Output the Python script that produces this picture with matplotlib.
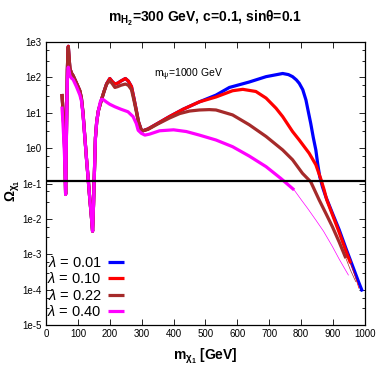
import numpy as np
import matplotlib
matplotlib.use("Agg")
import matplotlib.pyplot as plt
from matplotlib.ticker import LogLocator, FixedLocator, NullFormatter

plt.rcParams['font.family'] = ['Liberation Sans', 'DejaVu Sans']
plt.rcParams['mathtext.fontset'] = 'custom'
plt.rcParams['mathtext.rm'] = 'Liberation Sans'
plt.rcParams['mathtext.it'] = 'Liberation Sans:italic'
plt.rcParams['mathtext.bf'] = 'Liberation Sans:bold'

# ---------------- data (m_chi1 [GeV], Omega) ----------------
m_blue = [50, 52, 55, 58, 60, 61.5, 63, 65, 67, 69, 70, 72, 75, 80, 85, 95, 106, 111, 116,
          122, 127, 132, 137, 142, 146, 149, 151, 155, 159, 164, 174, 182, 190, 200, 208,
          216, 225, 235, 249, 258, 268, 276, 283, 290, 299, 304, 320, 350, 387, 430, 481,
          533, 575, 637, 690, 742, 760, 773, 785, 794, 805, 815, 822, 830, 838, 846, 852,
          858, 867, 877, 898, 919, 940, 960, 980, 992]
om_blue = [34, 18, 5.6, 1.26, 0.25, 0.05, 0.5, 10, 160, 630, 760, 400, 178, 132, 112, 71, 42,
           26, 10, 1.95, 0.5, 0.145, 0.04, 0.0126, 0.0045, 0.025, 0.12, 1.95, 5.6, 11.2, 23.4,
           40, 66, 93, 76, 65, 69, 79, 93, 79, 55, 25, 12, 5.6, 3.2, 3.1, 3.5, 5.0, 7.8, 12.6,
           20.4, 31.6, 52, 74, 105, 129, 120, 105, 85, 68, 45, 23, 11.2, 5.0, 2.0, 0.89, 0.35,
           0.16, 0.08, 0.043, 0.0145, 0.005, 1.5e-3, 5.0e-4, 1.66e-4, 8.9e-5]

m_red = [50, 52, 55, 58, 60, 61.5, 63, 65, 67, 69, 70, 72, 75, 80, 85, 95, 106, 111, 116,
         122, 127, 132, 137, 142, 146, 149, 151, 155, 159, 164, 174, 182, 190, 200, 208,
         216, 225, 235, 249, 258, 268, 276, 283, 290, 299, 304, 320, 350, 387, 430, 481,
         533, 585, 617, 658, 690, 721, 742, 773, 794, 825, 846, 861, 872, 880, 898, 919,
         940, 955, 968, 981]
om_red = [34, 18, 5.6, 1.26, 0.25, 0.05, 0.5, 10, 160, 630, 760, 400, 178, 132, 112, 71, 42,
          26, 10, 1.95, 0.5, 0.145, 0.04, 0.0126, 0.0045, 0.025, 0.12, 1.95, 5.6, 11.2, 23.4,
          40, 66, 93, 76, 65, 69, 79, 93, 79, 55, 25, 12, 5.6, 3.2, 3.1, 3.5, 5.0, 7.8, 12.6,
          20.4, 28, 42, 46, 40, 26, 13.5, 7.8, 2.95, 1.7, 0.72, 0.34, 0.14, 0.066, 0.035,
          0.0132, 0.0042, 1.26e-3, 5.6e-4, 2.6e-4, 1.1e-4]

m_brown = [50, 52, 55, 58, 60, 61.5, 63, 65, 67, 69, 70, 72, 75, 80, 85, 95, 106, 111, 116,
           122, 127, 132, 137, 142, 146, 149, 151, 155, 159, 164, 174, 182, 190, 200, 208,
           216, 225, 235, 249, 258, 268, 276, 283, 290, 299, 304, 320, 350, 387, 419, 450,
           481, 512, 533, 585, 637, 690, 742, 773, 804, 830, 856, 878, 898, 919, 940, 955,
           971]
om_brown = [34, 18, 5.6, 1.26, 0.25, 0.05, 0.5, 10, 160, 630, 720, 400, 178, 132, 112, 71,
            42, 26, 10, 1.95, 0.5, 0.145, 0.04, 0.0126, 0.0045, 0.025, 0.12, 1.95, 5.6, 11.2,
            23.4, 40, 64, 81, 66, 52, 55, 60, 65, 60, 45, 22, 11, 5.3, 3.2, 3.1, 3.4, 4.8,
            7.1, 9.5, 11.2, 12.0, 12.3, 12.0, 8.7, 4.6, 2.14, 0.89, 0.47, 0.195, 0.112,
            0.035, 0.014, 0.006, 2.24e-3, 7.8e-4, 3.5e-4, 1.7e-4]

m_mag = [50, 52, 55, 58, 60, 61.5, 63, 65, 67, 69, 70, 72, 75, 80, 85, 95, 106, 111, 116,
         122, 127, 132, 137, 142, 146, 149, 151, 155, 159, 164, 170, 174, 180, 190, 200, 216,
         235, 257, 273, 283, 289, 299, 310, 325, 356, 400, 440, 481, 533, 585, 637, 690, 736,
         778, 800, 820, 846, 870, 898, 920, 948]
om_mag = [15, 7.9, 2.5, 0.63, 0.18, 0.049, 0.4, 7.9, 79, 178, 195, 158, 112, 95, 87, 56, 32,
          22, 8.9, 1.86, 0.5, 0.145, 0.04, 0.0126, 0.0045, 0.025, 0.12, 1.95, 5.6, 11.2, 20,
          24, 23.4, 20, 17.4, 14.8, 12.6, 10.7, 7.8, 5.0, 3.2, 2.63, 2.34, 2.5, 3.1, 3.3, 2.95,
          2.34, 1.7, 1.1, 0.6, 0.3, 0.14, 0.066, 0.035, 0.02, 0.0093, 0.0045, 1.66e-3,
          7.1e-4, 2.6e-4]

# mass above which each curve is drawn thin
thin_from = {'blue': 2000, 'red': 955, 'brown': 940, 'mag': 778}

labels = [r'$\lambda$ = 0.01', r'$\lambda$ = 0.10', r'$\lambda$ = 0.22', r'$\lambda$ = 0.40']
omega_obs = 0.12

# ---------------- figure ----------------
fig = plt.figure(figsize=(3.82, 3.82), dpi=100)
ax = fig.add_axes([0.1204, 0.149, 0.835, 0.741])

series = [('blue', m_blue, om_blue, '#0000ff'),
          ('red', m_red, om_red, '#ff0000'),
          ('brown', m_brown, om_brown, '#a52a2a'),
          ('mag', m_mag, om_mag, '#ff00ff')]

handles = []
for (key, m, om, col), lab in zip(series, labels):
    m = np.array(m, float)
    om = np.array(om, float)
    cut = thin_from[key]
    thick = m <= cut
    h, = ax.plot(m[thick], om[thick], color=col, lw=2.3, solid_joinstyle='round',
                 solid_capstyle='butt', label=lab)
    handles.append(h)
    if (~thick).any():
        idx = np.where(~thick)[0]
        idx = np.concatenate([[idx[0] - 1], idx])
        ax.plot(m[idx], om[idx], color=col, lw=0.5)

ax.axhline(omega_obs, color='black', lw=1.6)

ax.set_yscale('log')
ax.set_xlim(0, 1000)
ax.set_ylim(1e-5, 1e3)
ax.xaxis.set_major_locator(FixedLocator(np.arange(0, 1001, 100)))
ax.yaxis.set_major_locator(FixedLocator([10.0 ** k for k in range(-5, 4)]))
ax.set_yticklabels(['1e-5', '1e-4', '1e-3', '1e-2', '1e-1', '1e0', '1e1', '1e2', '1e3'])
ax.yaxis.set_minor_locator(LogLocator(base=10, subs=(3.0, 6.0), numticks=20))
ax.yaxis.set_minor_formatter(NullFormatter())
ax.tick_params(which='both', direction='in', top=True, right=True, labelsize=7,
               width=0.6, pad=3)
ax.tick_params(which='major', length=4)
ax.tick_params(which='minor', length=2)
for s in ax.spines.values():
    s.set_linewidth(0.9)

ax.text(448, 117, r'$\mathregular{m_{\psi}}$=1000 GeV', fontsize=7.5, ha='center', va='center')

fig.text(0.537, 0.952, r'$\mathbf{m_{H_2}}$=300 GeV, c=0.1, sin$\mathbf{\theta}$=0.1',
         ha='center', va='center', fontsize=10, fontweight='bold')
fig.text(0.537, 0.068, r'$\mathbf{m_{\chi_1}}$ [GeV]', ha='center', va='center',
         fontsize=10, fontweight='bold')
fig.text(0.033, 0.5, r'$\mathbf{\Omega_{\chi_1}}$', ha='center', va='center',
         fontsize=10, fontweight='bold', rotation=90)

leg = ax.legend(handles=handles, loc='lower left', bbox_to_anchor=(-0.005, 0.01),
                markerfirst=False, frameon=False, fontsize=10.5, handlelength=1.1,
                handletextpad=0.4, labelspacing=0.1, borderaxespad=0.1,
                borderpad=0.1)
for t in leg.get_texts():
    t.set_ha('left')

fig.savefig('out.png', dpi=100)
